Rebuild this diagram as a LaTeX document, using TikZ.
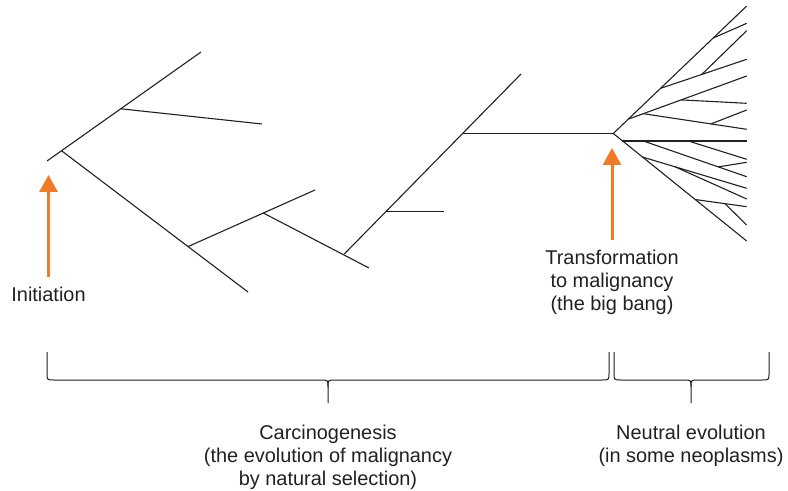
\documentclass[tikz,border=0pt]{standalone}
\usepackage{fontspec}
\setmainfont{Liberation Sans}
\usetikzlibrary{arrows.meta}
\definecolor{inkgray}{RGB}{35,31,32}
\definecolor{arroworange}{RGB}{240,122,38}

\begin{document}
\begin{tikzpicture}[x=1bp,y=-1bp,
    branch/.style={draw=inkgray,line width=1.1bp},
    bracket/.style={draw=inkgray,line width=1bp},
    pointer/.style={draw=arroworange,line width=3bp,-{Triangle[length=17bp,width=18bp]}},
    caption/.style={font=\fontsize{20}{23}\selectfont,text=inkgray,align=center,inner sep=0pt}]
    \useasboundingbox (0,0) rectangle (788,491);

    % 左边的树 (carcinogenesis)
    \coordinate (root) at (47,161);
    \coordinate (top1) at (201,52);
    \coordinate (b1) at (61.5,150.7);
    \coordinate (e1) at (248,292);
    \coordinate (b2) at (120.7,108.8);
    \coordinate (e2) at (262,124);
    \coordinate (b3) at (188,246.6);
    \coordinate (e3) at (315,190);
    \coordinate (b4) at (263.3,213);
    \coordinate (e4) at (369,268);
    \coordinate (b5) at (344.3,254);
    \coordinate (e5) at (521,74);
    \coordinate (b6) at (386,211.7);
    \coordinate (e6) at (444,211.7);
    \coordinate (b7) at (463,133.5);
    \coordinate (apex) at (613.3,133.5);

    \draw[branch] (root) -- (top1);
    \draw[branch] (b1) -- (e1);
    \draw[branch] (b2) -- (e2);
    \draw[branch] (b3) -- (e3);
    \draw[branch] (b4) -- (e4);
    \draw[branch] (b5) -- (e5);
    \draw[branch] (b6) -- (e6);
    \draw[branch] (b7) -- (apex);

    % 右边的树 (neutral evolution)
    \coordinate (up) at (746.7,6);
    \coordinate (down) at (746.7,241);
    \coordinate (u1) at (713.3,38);   \coordinate (v1) at (746.7,23.3);
    \coordinate (u2) at (661,88.2);   \coordinate (v2) at (746.7,59.3);
    \coordinate (u3) at (701.7,74.5); \coordinate (v3) at (746.7,30.7);
    \coordinate (u4) at (629,118.9);  \coordinate (v4) at (746.7,76);
    \coordinate (u5) at (681,99.9);   \coordinate (v5) at (746.7,103.3);
    \coordinate (u6) at (643.3,113.7);\coordinate (v6) at (746.7,129.3);
    \coordinate (u7) at (711,123.9);  \coordinate (v7) at (746.7,110);
    \coordinate (h0) at (622,141);    \coordinate (h1) at (746.7,141);
    \coordinate (l1) at (643.3,141);  \coordinate (m1) at (746.7,176.7);
    \coordinate (l2) at (688.3,141);  \coordinate (m2) at (746.7,159.3);
    \coordinate (l3) at (718.3,166.9);\coordinate (m3) at (746.7,162.3);
    \coordinate (l4) at (641.7,156.8);\coordinate (m4) at (746.7,188.3);
    \coordinate (l5) at (675,166.8);  \coordinate (m5) at (746.7,199);
    \coordinate (l6) at (695,199.5);  \coordinate (m6) at (746.7,206.7);
    \coordinate (l7) at (725,203.7);  \coordinate (m7) at (746.7,225);

    \draw[branch] (up) -- (apex) -- (down);
    \draw[branch] (h0) -- (h1);
    \foreach \i in {1,...,7} {
        \draw[branch] (u\i) -- (v\i);
        \draw[branch] (l\i) -- (m\i);
    }

    % 文字和箭头
    \coordinate (initTip) at (48.5,175);
    \coordinate (bangTip) at (612,148);
    \node[caption,anchor=north] (init) at (48.5,287) {Initiation};
    \node[caption,anchor=north] (bang) at (612,250) {Transformation\\to malignancy\\(the big bang)};
    \draw[pointer] ([yshift=10bp]init.north) -- (initTip);
    \draw[pointer] ([yshift=10bp]bang.north) -- (bangTip);

    % 两个括号
    \draw[bracket] (47,352) -- (47,373) .. controls (47,380) .. (54,380) -- (321,380)
        .. controls (328,380) .. (328,387) -- (328,403);
    \draw[bracket] (609,352) -- (609,373) .. controls (609,380) .. (602,380) -- (335,380)
        .. controls (328,380) .. (328,387);
    \draw[bracket] (614,352) -- (614,373) .. controls (614,380) .. (621,380) -- (684,380)
        .. controls (691,380) .. (691,387) -- (691,403);
    \draw[bracket] (769,352) -- (769,373) .. controls (769,380) .. (762,380) -- (698,380)
        .. controls (691,380) .. (691,387);

    \node[caption,anchor=north] (carcino) at (328,425) {Carcinogenesis\\(the evolution of malignancy\\by natural selection)};
    \node[caption,anchor=north] (neutral) at (691,425) {Neutral evolution\\(in some neoplasms)};
\end{tikzpicture}
\end{document}
